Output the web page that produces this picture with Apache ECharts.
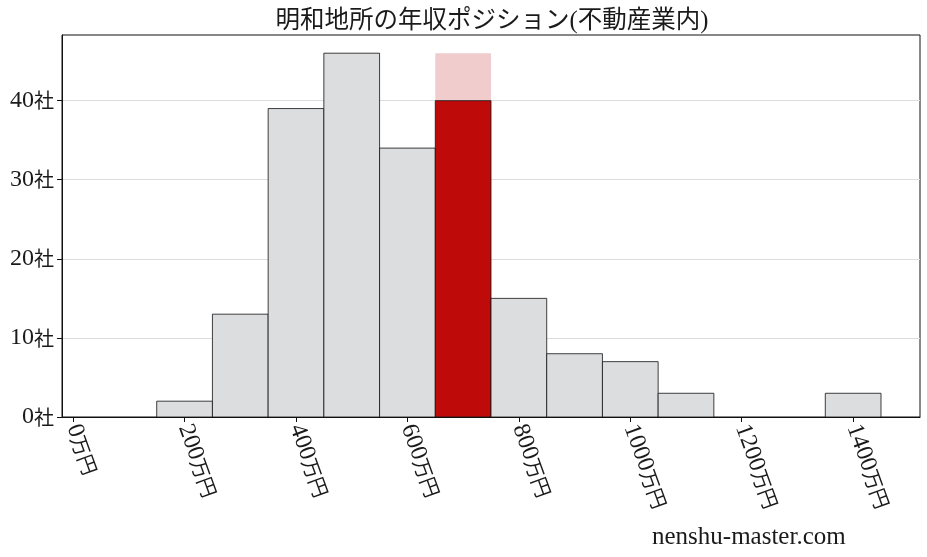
<!DOCTYPE html>
<html>
<head>
<meta charset="utf-8">
<script src="https://cdn.jsdelivr.net/npm/echarts@6/dist/echarts.min.js"></script>
<style>
html,body{margin:0;padding:0;background:#fff;}
#chart{width:927px;height:557px;}
</style>
</head>
<body>
<div id="chart"></div>
<script>
// Histogram bins (万円) and company counts
const binStarts = [150, 250, 350, 450, 550, 650, 750, 850, 950, 1050, 1150, 1250, 1350];
const binEnds   = [250, 350, 450, 550, 650, 750, 850, 950, 1050, 1150, 1250, 1350, 1450];
const counts    = [2, 13, 39, 46, 34, 40, 15, 8, 7, 3, 0, 0, 3];
const highlightIndex = 5;           // 明和地所 bin
const highlightMax = 46;            // pink band top (max count)
const xTicks = [0, 200, 400, 600, 800, 1000, 1200, 1400];
const yTicks = [0, 10, 20, 30, 40];

const FONT = '"Liberation Serif", "Noto Sans CJK JP", serif';
const richStyles = {
  n: {fontFamily: '"Liberation Serif", serif', fontSize: 24, color: '#1a1a1a'},
  u: {fontFamily: '"Noto Sans CJK JP", sans-serif', fontSize: 20, color: '#1a1a1a'}
};

const barData = binStarts.map((s, i) => [s, binEnds[i], counts[i], i === highlightIndex ? 1 : 0]);
const bandData = [[binStarts[highlightIndex], binEnds[highlightIndex], counts[highlightIndex], highlightMax]];

const chart = echarts.init(document.getElementById('chart'), null, {renderer: 'canvas'});
chart.setOption({
  animation: false,
  backgroundColor: '#ffffff',
  title: {
    text: '明和地所の年収ポジション(不動産業内)',
    left: 487,
    top: 4,
    textAlign: 'center',
    textStyle: {fontFamily: FONT, fontSize: 24.5, fontWeight: 'normal', color: '#1a1a1a'}
  },
  graphic: [{
    type: 'text',
    left: 652,
    top: 525,
    style: {text: 'nenshu-master.com', font: '25px "Liberation Serif", "DejaVu Serif", serif', fill: '#1a1a1a'}
  }],
  grid: {left: 62, right: 7, top: 35, bottom: 140, show: true, borderColor: '#111', borderWidth: 1, backgroundColor: 'transparent'},
  xAxis: {
    type: 'value',
    min: -20,
    max: 1520,
    axisLine: {show: true, onZero: false, lineStyle: {color: '#111'}},
    axisTick: {show: true, customValues: xTicks, length: 5, lineStyle: {color: '#111'}},
    axisLabel: {
      customValues: xTicks,
      rotate: -70,
      margin: 8,
      rich: richStyles,
      formatter: v => '{n|' + v + '}{u|万円}'
    },
    splitLine: {show: false}
  },
  yAxis: {
    type: 'value',
    min: 0,
    max: 48.3,
    axisLine: {show: true, onZero: false, lineStyle: {color: '#111'}},
    axisTick: {show: true, customValues: yTicks, length: 5, lineStyle: {color: '#111'}},
    axisLabel: {
      customValues: yTicks,
      margin: 8,
      rich: richStyles,
      formatter: v => '{n|' + v + '}{u|社}'
    },
    splitLine: {show: true, lineStyle: {color: '#dddddd', width: 1}}
  },
  series: [
    {
      type: 'custom',
      z: 1,
      data: bandData,
      encode: {x: [0, 1], y: [2, 3]},
      renderItem: function (params, api) {
        const p0 = api.coord([api.value(0), api.value(3)]);
        const p1 = api.coord([api.value(1), api.value(2)]);
        return {
          type: 'rect',
          shape: {x: p0[0], y: p0[1], width: p1[0] - p0[0], height: p1[1] - p0[1]},
          style: {fill: '#f0cccc'}
        };
      }
    },
    {
      type: 'custom',
      z: 2,
      data: barData,
      encode: {x: [0, 1], y: 2},
      renderItem: function (params, api) {
        const h = api.value(2);
        if (h <= 0) return null;
        const p0 = api.coord([api.value(0), h]);
        const p1 = api.coord([api.value(1), 0]);
        return {
          type: 'rect',
          shape: {x: p0[0], y: p0[1], width: p1[0] - p0[0], height: p1[1] - p0[1]},
          style: {fill: api.value(3) ? '#bf0a0a' : '#dcdddf', stroke: '#111', lineWidth: 0.8}
        };
      }
    }
  ]
});
</script>
</body>
</html>
